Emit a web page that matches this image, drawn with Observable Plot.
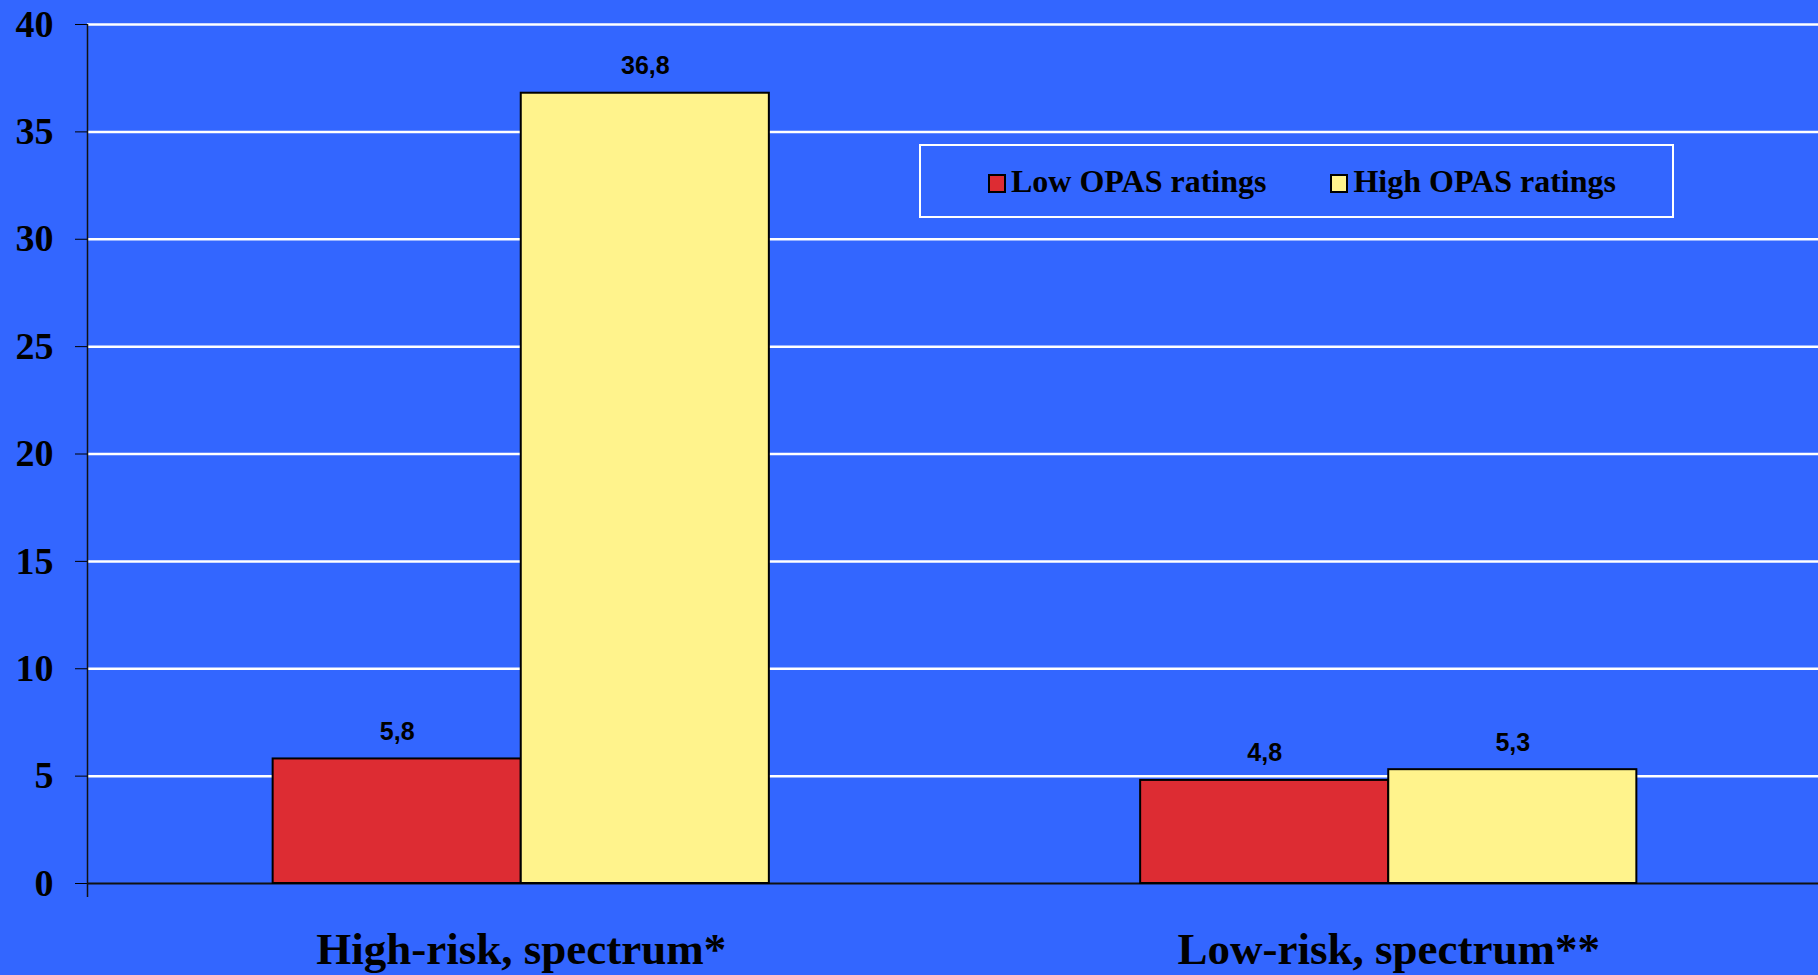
<!DOCTYPE html>
<html>
<head>
<meta charset="utf-8">
<script src="https://cdn.jsdelivr.net/npm/d3@7"></script>
<script src="https://cdn.jsdelivr.net/npm/@observablehq/plot@0.6"></script>
<style>
  html, body { margin: 0; padding: 0; background: #3366FF; }
  #wrap { position: relative; width: 1818px; height: 975px; overflow: hidden; }
  #wrap svg { display: block; }
  #wrap g[aria-label^="y-axis"] text {
    font-family: "Liberation Serif", "Times New Roman", serif;
    font-weight: bold; font-size: 38px; fill: #000;
  }
  #wrap g[aria-label^="x-axis"] text {
    font-family: "Liberation Serif", "Times New Roman", serif;
    font-weight: bold; font-size: 45px; fill: #000;
  }
  #legend {
    position: absolute; left: 919px; top: 144px; width: 755px; height: 74px;
    border: 2px solid #fff; display: flex; align-items: center;
    padding-left: 67px; box-sizing: border-box; gap: 64px;
    font-family: "Liberation Serif", "Times New Roman", serif;
    font-weight: bold; font-size: 32px; color: #000;
  }
  #legend .item { display: flex; align-items: center; gap: 5px; white-space: nowrap; }
  #legend .sw { width: 14px; height: 15px; border: 2px solid #000; margin-top: 4px; }
</style>
</head>
<body>
<div id="wrap"></div>
<script>
// Categories and the two OPAS series (percent)
const categories = ["High-risk, spectrum*", "Low-risk, spectrum**"];
const seriesNames = ["Low OPAS ratings", "High OPAS ratings"];
const lowOpas = [5.8, 4.8];
const highOpas = [36.8, 5.3];
const yTicks = [0, 5, 10, 15, 20, 25, 30, 35, 40];
const seriesColors = ["#DD2C33", "#FFF38C"];

// Width of one bar as a fraction of a category step
const barWidth = 0.286;

const rows = [];
categories.forEach((c, ci) => {
  [lowOpas, highOpas].forEach((vals, si) => {
    rows.push({category: c, ci, series: seriesNames[si], si, value: vals[ci]});
  });
});

const fmt = v => d3.format(".1f")(v).replace(".", ",");
const left = d => d.ci + (d.si - 1) * barWidth;

const chart = Plot.plot({
  width: 1818,
  height: 975,
  marginLeft: 87,
  marginRight: 0,
  marginTop: 24,
  marginBottom: 78,
  style: {background: "#3366FF", color: "#000", overflow: "visible"},
  x: {
    domain: [-0.5, categories.length - 0.5],
    range: [87, 1822],
    ticks: categories.map((_, i) => i),
    tickFormat: i => categories[i],
    tickSize: 0,
    tickPadding: 35,
    label: null
  },
  y: {
    domain: [0, 40],
    range: [883, 24],
    ticks: yTicks,
    tickSize: 12,
    tickPadding: 22,
    label: null
  },
  color: {domain: seriesNames, range: seriesColors},
  marks: [
    Plot.ruleY(yTicks.filter(t => t > 0), {stroke: "#fff", strokeWidth: 2.5}),
    Plot.ruleY([0], {stroke: "#111", strokeWidth: 2}),
    Plot.ruleX([-0.5], {stroke: "#111", strokeWidth: 1.5}),
    Plot.ruleX(categories.slice(1).map((_, i) => i + 0.5), {y1: 0, stroke: "#111", strokeWidth: 2}),
    Plot.rectY(rows, {
      x1: left,
      x2: d => left(d) + barWidth,
      y: "value",
      fill: "series",
      stroke: "#000",
      strokeWidth: 2
    }),
    Plot.text(rows, {
      x: d => left(d) + barWidth / 2,
      y: "value",
      text: d => fmt(d.value),
      dy: -27,
      fontFamily: "Liberation Sans, Arial, sans-serif",
      fontWeight: "bold",
      fontSize: 25,
      fill: "#000"
    })
  ]
});

const wrap = document.getElementById("wrap");
wrap.appendChild(chart);

// Legend box drawn over the plot area
const legend = document.createElement("div");
legend.id = "legend";
seriesNames.forEach((name, i) => {
  const item = document.createElement("div");
  item.className = "item";
  const sw = document.createElement("div");
  sw.className = "sw";
  sw.style.background = seriesColors[i];
  const label = document.createElement("span");
  label.textContent = name;
  item.appendChild(sw);
  item.appendChild(label);
  legend.appendChild(item);
});
wrap.appendChild(legend);
</script>
</body>
</html>
